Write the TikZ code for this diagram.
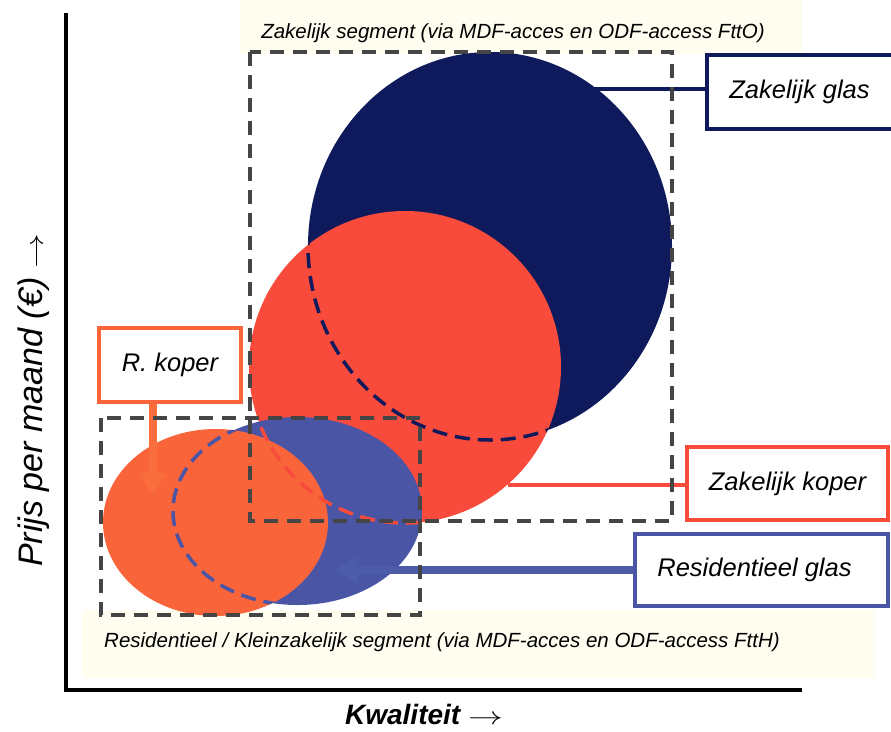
\documentclass[tikz,border=0pt]{standalone}
\usepackage{fontspec}
\setmainfont{Liberation Sans}
\usetikzlibrary{arrows.meta,calc}
\definecolor{navyc}{RGB}{14,26,92}
\definecolor{redc}{RGB}{248,75,60}
\definecolor{bluec}{RGB}{74,85,165}
\definecolor{orangec}{RGB}{249,100,58}
\definecolor{orangel}{RGB}{250,110,62}
\definecolor{bluel}{RGB}{76,92,168}
\definecolor{beigec}{RGB}{254,253,240}
\definecolor{grayc}{RGB}{69,69,69}
\newcommand{\longarr}{\scalebox{1.4}[1]{$\rightarrow$}}
\tikzset{
  segbox/.style={draw=grayc, line width=4pt, dash pattern=on 14pt off 9pt},
  outl/.style={line width=3.5pt, dash pattern=on 15pt off 8pt},
  labelbox/.style={draw, fill=white, line width=4pt, inner sep=0pt,
    font=\fontsize{25.5}{30}\selectfont\itshape},
  segtext/.style={font=\fontsize{20.5}{24}\selectfont\itshape, inner sep=0pt},
  fatarrow/.style={line width=8pt, -{Triangle[length=22pt,width=26pt]}},
}
\begin{document}
\begin{tikzpicture}[x=1pt,y=-1pt]
\useasboundingbox (0,0) rectangle (891,731);
% backgrounds
\fill[beigec] (240,0) rectangle (802,54);
\fill[beigec] (82,610) rectangle (875,678);
% axes
\draw[line width=3.5pt] (66,13) -- (66,689.75) -- (802,689.75);
% ellipses: fills
\coordinate (czg) at (490,246);
\coordinate (czk) at (405,367);
\coordinate (crg) at (297.5,511);
\coordinate (crk) at (215.5,522.5);
\fill[navyc] (czg) ellipse [x radius=182pt, y radius=194pt];
\fill[redc] (czk) circle [radius=156pt];
\begin{scope}
  \clip (czk) circle [radius=156pt];
  \draw[navyc, outl] (czg) ellipse [x radius=182pt, y radius=194pt];
\end{scope}
\fill[bluec] (crg) ellipse [x radius=124.5pt, y radius=94pt];
\fill[orangec] (crk) ellipse [x radius=112.5pt, y radius=93.5pt];
\begin{scope}
  \clip (crg) ellipse [x radius=124.5pt, y radius=94pt];
  \draw[redc, outl] (czk) circle [radius=156pt];
\end{scope}
\begin{scope}
  \clip (crk) ellipse [x radius=112.5pt, y radius=93.5pt];
  \draw[bluec, outl] (crg) ellipse [x radius=124.5pt, y radius=94pt];
\end{scope}
% segment labels
\node[segtext] (tz) at (513,33) {Zakelijk segment (via MDF-acces en ODF-access FttO)};
\node[segtext] (tr) at (442,642) {Residentieel / Kleinzakelijk segment (via MDF-acces en ODF-access FttH)};
% label boxes
\node[labelbox, draw=navyc, minimum width=191pt, minimum height=74pt] (zgbox) at (802.5,92) {\hspace*{-6pt}Zakelijk glas};
\node[labelbox, draw=redc, minimum width=201pt, minimum height=73pt] (zkbox) at (787.5,483.5) {Zakelijk koper};
\node[labelbox, draw=bluec, minimum width=253pt, minimum height=72pt] (rgbox) at (761.5,570) {\hspace*{-14pt}Residentieel glas};
\node[labelbox, draw=orangec, minimum width=142pt, minimum height=74pt] (rkbox) at (170,365) {R. koper};
% connectors
\coordinate (zgc) at (594,89);
\coordinate (zkc) at (508,485);
\coordinate (rgt) at (335,570);
\coordinate (rkt) at (153,495);
\draw[navyc, line width=3.5pt] (zgc) -- (zgc -| zgbox.west);
\draw[redc, line width=3.5pt] (zkc) -- (zkc -| zkbox.west);
\draw[bluel, fatarrow] (rgbox.west) -- (rgt);
\draw[orangel, fatarrow] (rkt |- rkbox.south) -- (rkt);
% segment boxes
\draw[segbox] (250,52) rectangle (672,521);
\draw[segbox] (101,418) rectangle (420,615);
% axis titles
\node[font=\fontsize{34}{38}\selectfont\itshape, rotate=90, inner sep=0pt] (ylab) at (34,400) {Prijs per maand (€) \longarr};
\node[font=\fontsize{28}{32}\selectfont\bfseries\itshape, inner sep=0pt] (xlab) at (424,714) {Kwaliteit \longarr};
\end{tikzpicture}
\end{document}
